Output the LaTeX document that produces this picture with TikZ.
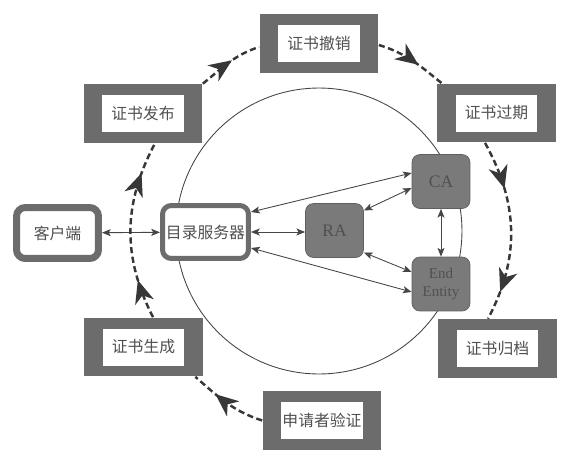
\documentclass[tikz,border=0pt]{standalone}
\usepackage{fontspec}
\setmainfont{Liberation Serif}
\newfontfamily\cjk{Noto Sans CJK SC}
\usetikzlibrary{arrows.meta,decorations.markings}
\definecolor{boxgray}{RGB}{108,108,108}
\definecolor{unitgray}{RGB}{122,122,122}
\definecolor{unitedge}{RGB}{95,95,95}
\definecolor{textgray}{RGB}{80,80,80}
\definecolor{linegray}{RGB}{70,70,70}
\definecolor{flowgray}{RGB}{55,55,55}
\begin{document}
\begin{tikzpicture}[x=0.02cm, y=-0.02cm,
      >={Stealth[length=5pt,width=4pt,inset=1.2pt]},
      phase/.style={fill=boxgray, minimum width=2.38cm, minimum height=1.18cm, inner sep=0pt},
      phasein/.style={fill=white, minimum width=1.64cm, minimum height=0.74cm, inner sep=0pt,
        text=textgray, font=\cjk\fontsize{9}{11}\selectfont},
      host/.style={draw=boxgray, fill=white, rounded corners=5pt, inner sep=0pt,
        text=textgray, font=\cjk\fontsize{9}{11}\selectfont},
      unit/.style={draw=unitedge, fill=unitgray, rounded corners=0.16cm, minimum width=1.16cm,
        minimum height=1.08cm, inner sep=0pt, align=center, text=textgray,
        font=\fontsize{10}{11}\selectfont},
      link/.style={<->, draw=linegray, line width=0.5pt},
      flow/.style={draw=flowgray, line width=1.4pt, dash pattern=on 3.5pt off 2pt},
      tip at/.style={postaction={decorate, decoration={markings,
        mark=at position #1 with {\arrow[solid,flowgray]{Stealth[length=13pt,width=11pt,inset=4pt]}}}}}]
    \useasboundingbox (0,0) rectangle (576,457);
    \draw[linegray, line width=0.5pt] (319,231) circle[radius=2.86cm];

    \node[phase] (revoke) at (319,43.5) {};
    \node[phasein] at (revoke) {证书撤销};
    \node[phase] (publish) at (143,113.5) {};
    \node[phasein] at (publish) {证书发布};
    \node[phase] (expire) at (496.5,113) {};
    \node[phasein] at (expire) {证书过期};
    \node[phase] (create) at (143.5,347) {};
    \node[phasein] at (create) {证书生成};
    \node[phase] (verify) at (322,420.5) {};
    \node[phasein] at (verify) {申请者验证};
    \node[phase] (archive) at (497.5,348.5) {};
    \node[phasein] at (archive) {证书归档};

    \node[host, line width=0.14cm, minimum width=1.64cm, minimum height=1.02cm] (client) at (57.5,233) {客户端};
    \node[host, line width=0.1cm, minimum width=1.72cm, minimum height=1.06cm] (dirsrv) at (205.5,232) {目录服务器};

    \node[unit] (ca) at (441,181.5) {CA};
    \node[unit] (ra) at (334.5,230.5) {RA};
    \node[unit, font=\fontsize{8.5}{10.5}\selectfont] (ee) at (441,284) {End\\Entity};

    \draw[link] (client) -- (dirsrv);
    \draw[link] ([yshift=0.4cm]dirsrv.east) -- ([yshift=0.17cm]ca.west);
    \draw[link] (dirsrv.east) -- (dirsrv.east -| ra.west);
    \draw[link] ([yshift=-0.32cm]dirsrv.east) -- ([yshift=-0.16cm]ee.west);
    \draw[link] ([yshift=0.4cm]ra.east) -- ([yshift=-0.13cm]ca.west);
    \draw[link] ([yshift=-0.44cm]ra.east) -- ([yshift=0.24cm]ee.west);
    \draw[link] (ca) -- (ee);

    \draw[flow, tip at=0.67] (verify.west) to[out=162, in=-41] ([xshift=-0.16cm]create.south east);
    \draw[flow, tip at=0.22, tip at=0.82] ([xshift=0.19cm]create.north) to[out=117, in=-118] ([xshift=0.24cm]publish.south);
    \draw[flow, tip at=0.55] (publish.north east) to[out=39, in=198] ([yshift=-0.07cm]revoke.west);
    \draw[flow, tip at=0.6] ([yshift=-0.03cm]revoke.east) to[out=-17, in=141] ([xshift=0.1cm]expire.north west);
    \draw[flow, tip at=0.27, tip at=0.84] ([xshift=-0.23cm]expire.south) to[out=-61, in=62] ([xshift=-0.19cm]archive.north);
  \end{tikzpicture}
\end{document}
